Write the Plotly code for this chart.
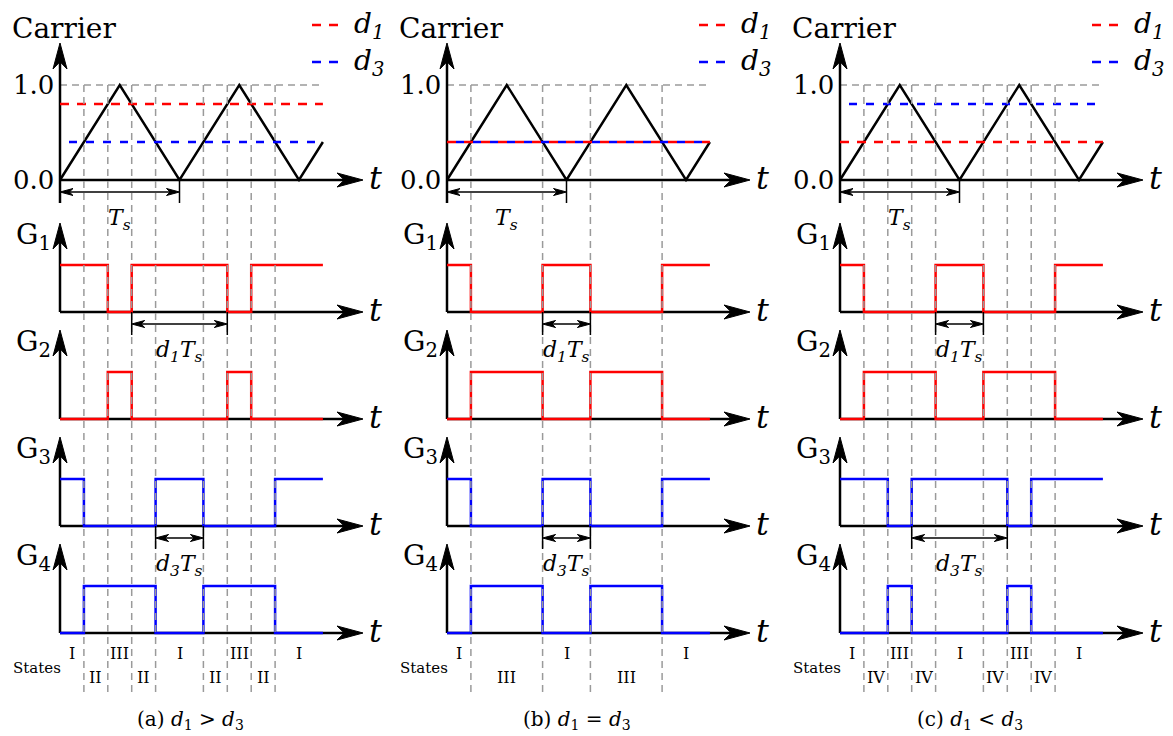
import plotly.graph_objects as go

# ---------------- data ----------------
CARRIER_T = [0.0, 0.5, 1.0, 1.5, 2.0, 2.2]
CARRIER_V = [0.0, 1.0, 0.0, 1.0, 0.0, 0.4]
T_END = 2.2
PANEL_TAGS = ["(a)", "(b)", "(c)"]
PANEL_REL = ["&gt;", "=", "&lt;"]
D1 = [0.8, 0.4, 0.4]
D3 = [0.4, 0.4, 0.8]

EDGES_A = [0, 0.2, 0.4, 0.6, 0.8, 1.2, 1.4, 1.6, 1.8, 2.2]
G1_A = [1, 1, 0, 1, 1, 1, 0, 1, 1]
G2_A = [0, 0, 1, 0, 0, 0, 1, 0, 0]
G3_A = [1, 0, 0, 0, 1, 0, 0, 0, 1]
G4_A = [0, 1, 1, 1, 0, 1, 1, 1, 0]
STATES_A = ["I", "II", "III", "II", "I", "II", "III", "II", "I"]
STATE_ROW_A = [0, 1, 0, 1, 0, 1, 0, 1, 0]

EDGES_B = [0, 0.2, 0.8, 1.2, 1.8, 2.2]
G1_B = [1, 0, 1, 0, 1]
G2_B = [0, 1, 0, 1, 0]
G3_B = [1, 0, 1, 0, 1]
G4_B = [0, 1, 0, 1, 0]
STATES_B = ["I", "III", "I", "III", "I"]
STATE_ROW_B = [0, 1, 0, 1, 0]

EDGES_C = [0, 0.2, 0.4, 0.6, 0.8, 1.2, 1.4, 1.6, 1.8, 2.2]
G1_C = [1, 0, 0, 0, 1, 0, 0, 0, 1]
G2_C = [0, 1, 1, 1, 0, 1, 1, 1, 0]
G3_C = [1, 1, 0, 1, 1, 1, 0, 1, 1]
G4_C = [0, 0, 1, 0, 0, 0, 1, 0, 0]
STATES_C = ["I", "IV", "III", "IV", "I", "IV", "III", "IV", "I"]
STATE_ROW_C = [0, 1, 0, 1, 0, 1, 0, 1, 0]

D1TS_SPAN = [(0.6, 1.4), (0.8, 1.2), (0.8, 1.2)]
D3TS_SPAN = [(0.8, 1.2), (0.8, 1.2), (0.6, 1.4)]
CARRIER_TICKS = [0.0, 1.0]
CARRIER_TICK_TEXT = ["0.0", "1.0"]
GATE_NAMES = ["G<sub>1</sub>", "G<sub>2</sub>", "G<sub>3</sub>", "G<sub>4</sub>"]

PANELS = [
    dict(edges=EDGES_A, gates=[G1_A, G2_A, G3_A, G4_A], states=STATES_A, rows=STATE_ROW_A),
    dict(edges=EDGES_B, gates=[G1_B, G2_B, G3_B, G4_B], states=STATES_B, rows=STATE_ROW_B),
    dict(edges=EDGES_C, gates=[G1_C, G2_C, G3_C, G4_C], states=STATES_C, rows=STATE_ROW_C),
]

# ---------------- layout constants ----------------
W, H = 1173, 736
PANEL_X0 = [60, 447, 840]
PX_TS = 119.5
CARRIER_BASE, CARRIER_SCALE = 180, 95
GATE_BASE = [312, 419, 526, 633]
GATE_HIGH = 47
AXIS_LEN = 303
CARRIER_AXIS_H = 137
GATE_AXIS_H = 89
STATE_Y = [653, 677]
VDASH_BOTTOM = 695
FONT = "DejaVu Serif, Liberation Serif, serif"
RED, BLUE, GRAY = "#ff0000", "#0000ff", "#9a9a9a"


def X(p, t):
    return PANEL_X0[p] + t * PX_TS


def YC(v):
    return CARRIER_BASE - v * CARRIER_SCALE


def YG(g, level):
    return GATE_BASE[g] - level * GATE_HIGH


fig = go.Figure()


def line(xs, ys, color, width, dash=None, shape="linear"):
    fig.add_trace(go.Scatter(x=xs, y=ys, mode="lines",
                             line=dict(color=color, width=width, dash=dash, shape=shape),
                             hoverinfo="skip", showlegend=False))


heads_big = ([], [])
heads_small = ([], [])


def head(store, tx, ty, direction, L, Wd, notch=0.72):
    if direction == "right":
        pts = [(tx, ty), (tx - L, ty - Wd / 2), (tx - notch * L, ty), (tx - L, ty + Wd / 2), (tx, ty)]
    elif direction == "left":
        pts = [(tx, ty), (tx + L, ty - Wd / 2), (tx + notch * L, ty), (tx + L, ty + Wd / 2), (tx, ty)]
    else:  # up
        pts = [(tx, ty), (tx - Wd / 2, ty + L), (tx, ty + notch * L), (tx + Wd / 2, ty + L), (tx, ty)]
    for px, py in pts:
        store[0].append(px)
        store[1].append(py)
    store[0].append(None)
    store[1].append(None)


annotations = []


def text(x, y, s, size, xanchor="center", yanchor="middle", italic=False):
    if italic:
        s = "<i>" + s + "</i>"
    annotations.append(dict(x=x, y=y, xref="x", yref="y", text=s, showarrow=False,
                            xanchor=xanchor, yanchor=yanchor,
                            font=dict(family=FONT, size=size, color="black")))


BIG_L, BIG_W = 26, 14
SM_L, SM_W = 13, 7

# 1) background dashed grid at 1.0
for p in range(3):
    line([X(p, 0), X(p, T_END)], [YC(1.0), YC(1.0)], GRAY, 1.5, dash="7px,5px")

# 2) axes
for p in range(3):
    x0 = X(p, 0)
    line([x0, x0 + AXIS_LEN - BIG_L * 0.7], [YC(0), YC(0)], "black", 2.5)
    line([x0, x0], [YC(0) + 23, CARRIER_BASE - CARRIER_AXIS_H + BIG_L * 0.7], "black", 2.5)
    head(heads_big, x0 + AXIS_LEN, YC(0), "right", BIG_L, BIG_W)
    head(heads_big, x0, CARRIER_BASE - CARRIER_AXIS_H, "up", BIG_L, BIG_W)
    text(x0 + 315, YC(0) - 2, "t", 32, italic=True)
    text(x0 + 4, 28, "Carrier", 28)
    for v, s in zip(CARRIER_TICKS, CARRIER_TICK_TEXT):
        text(x0 - 4, YC(v), s, 26, xanchor="right")
    for g in range(4):
        b = GATE_BASE[g]
        line([x0, x0 + AXIS_LEN - BIG_L * 0.7], [b, b], "black", 2.5)
        line([x0, x0], [b, b - GATE_AXIS_H + BIG_L * 0.7], "black", 2.5)
        head(heads_big, x0 + AXIS_LEN, b, "right", BIG_L, BIG_W)
        head(heads_big, x0, b - GATE_AXIS_H, "up", BIG_L, BIG_W)
        text(x0 + 315, b - 2, "t", 32, italic=True)
        text(x0 - 7, b - 76, GATE_NAMES[g], 28, xanchor="right")

# 3) carrier
for p in range(3):
    line([X(p, t) for t in CARRIER_T], [YC(v) for v in CARRIER_V], "black", 2.5)

# 4) duty references
for p in range(3):
    line([X(p, 0), X(p, T_END)], [YC(D3[p]), YC(D3[p])], BLUE, 2.5, dash="0px,9px,8px,0px")
    line([X(p, 0), X(p, T_END)], [YC(D1[p]), YC(D1[p])], RED, 2.5, dash="9px,8px")
    lx = X(p, 0) + 252
    line([lx, lx + 27], [25, 25], RED, 2.5, dash="9px,8px")
    line([lx, lx + 27], [62, 62], BLUE, 2.5, dash="9px,8px")
    text(lx + 40, 25, "d<sub>1</sub>", 28, xanchor="left", italic=True)
    text(lx + 40, 62, "d<sub>3</sub>", 28, xanchor="left", italic=True)

# 5) gate signals
for p, pan in enumerate(PANELS):
    for g in range(4):
        lev = pan["gates"][g]
        col = RED if g < 2 else BLUE
        line([X(p, t) for t in pan["edges"]], [YG(g, l) for l in lev + [lev[-1]]],
             col, 2.5, shape="hv")

# 6) vertical dashed lines
for p, pan in enumerate(PANELS):
    xs, ys = [], []
    for t in pan["edges"][1:-1]:
        xs += [X(p, t), X(p, t), None]
        ys += [YC(1.0), VDASH_BOTTOM, None]
    line(xs, ys, GRAY, 1.5, dash="7px,5px")


# 7) dimension arrows
def dim(p, t0, t1, base, label):
    xa, xb = X(p, t0), X(p, t1)
    line([xa, xa, None, xb, xb], [base, base + 23, None, base, base + 23], "black", 1.5)
    line([xa + SM_L * 0.7, xb - SM_L * 0.7], [base + 12, base + 12], "black", 1.5)
    head(heads_small, xa, base + 12, "left", SM_L, SM_W)
    head(heads_small, xb, base + 12, "right", SM_L, SM_W)
    text((xa + xb) / 2, base + 39, label, 22, italic=True)


for p in range(3):
    dim(p, 0.0, 1.0, CARRIER_BASE, "T<sub>s</sub>")
    dim(p, D1TS_SPAN[p][0], D1TS_SPAN[p][1], GATE_BASE[0], "d<sub>1</sub>T<sub>s</sub>")
    dim(p, D3TS_SPAN[p][0], D3TS_SPAN[p][1], GATE_BASE[2], "d<sub>3</sub>T<sub>s</sub>")

# 8) states and captions
for p, pan in enumerate(PANELS):
    e = pan["edges"]
    for i, s in enumerate(pan["states"]):
        text(X(p, (e[i] + e[i + 1]) / 2), STATE_Y[pan["rows"][i]], s, 16)
    text(X(p, 0) - 23, 668, "States", 15)
    text(X(p, 0) + 130, 720,
         PANEL_TAGS[p] + " <i>d</i><sub>1</sub> " + PANEL_REL[p] + " <i>d</i><sub>3</sub>", 20)

for store in (heads_big, heads_small):
    fig.add_trace(go.Scatter(x=store[0], y=store[1], mode="lines", fill="toself",
                             fillcolor="black", line=dict(color="black", width=1),
                             hoverinfo="skip", showlegend=False))

fig.update_layout(
    width=W, height=H, margin=dict(l=0, r=0, t=0, b=0),
    paper_bgcolor="white", plot_bgcolor="white",
    xaxis=dict(range=[0, W], visible=False, fixedrange=True),
    yaxis=dict(range=[H, 0], visible=False, fixedrange=True),
    annotations=annotations,
)
fig.write_html("out.html")
